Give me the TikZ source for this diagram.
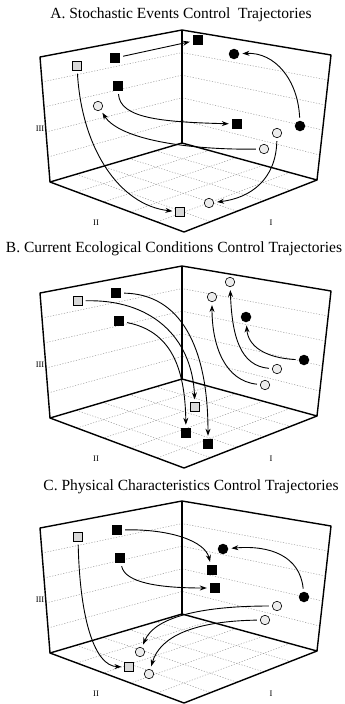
\documentclass[tikz,border=0pt]{standalone}
\usepackage{fontspec}
\setmainfont{Liberation Serif}
\usetikzlibrary{calc,arrows.meta}

% one box corner with its grid, in pixel units
\newcommand{\trajbox}[1]{%
  \coordinate (#1T) at (182,30);
  \coordinate (#1B) at (182,143);
  \coordinate (#1LT) at (40,57);
  \coordinate (#1LB) at (50,182);
  \coordinate (#1RT) at (331,55);
  \coordinate (#1RB) at (317,180);
  \coordinate (#1F) at (184,232);
  \foreach \pos in {0.2,0.4,0.6,0.8}{
    \draw[gridline] ($(#1LT)!\pos!(#1LB)$) -- ($(#1T)!\pos!(#1B)$);
    \draw[gridline] ($(#1RT)!\pos!(#1RB)$) -- ($(#1T)!\pos!(#1B)$);
    \draw[gridline] ($(#1B)!\pos!(#1RB)$) -- ($(#1LB)!\pos!(#1F)$);
    \draw[gridline] ($(#1B)!\pos!(#1LB)$) -- ($(#1RB)!\pos!(#1F)$);
  }
  \draw[frame] (#1LB) -- (#1LT) -- (#1T) -- (#1RT) -- (#1RB);
  \draw[frame] (#1T) -- (#1B);
  \draw[frame] (#1LB) -- (#1B) -- (#1RB) -- (#1F) -- cycle;
  \node[axlabel] (#1ax3) at (40,129) {III};
  \node[axlabel] (#1ax2) at (96,223) {II};
  \node[axlabel] (#1ax1) at (271,223) {I};
}

\begin{document}
\begin{tikzpicture}[x=1pt, y=-1pt,
    gridline/.style={gray!85, line width=0.45pt, dash pattern=on 1.2pt off 1.6pt},
    frame/.style={line width=1.4pt, line join=round},
    axlabel/.style={font=\fontsize{8.5}{9}\selectfont, inner sep=0pt},
    ttl/.style={font=\fontsize{15.5}{17}\selectfont, inner sep=0pt},
    bsq/.style={rectangle, fill=black, minimum size=10pt, inner sep=0pt},
    bdot/.style={circle, fill=black, minimum size=10.5pt, inner sep=0pt},
    gsq/.style={rectangle, draw, line width=0.6pt, fill=gray!30, minimum size=8.5pt, inner sep=0pt},
    gdot/.style={circle, draw, line width=0.6pt, fill=gray!15, minimum size=9.5pt, inner sep=0pt},
    traj/.style={->, >={Stealth[length=7pt,width=5pt]}, line width=0.9pt, shorten <=3pt, shorten >=3pt}
  ]
  \useasboundingbox (0,0) rectangle (345,704);

  % A
  \begin{scope}
    \trajbox{a}
    \node[ttl] (a-title) at (181,15) {A. Stochastic Events Control\ \ Trajectories};
    \node[gsq] (a-g1) at (77,66) {};
    \node[bsq] (a-b1) at (115,58) {};
    \node[bsq] (a-b2) at (198,40) {};
    \node[bdot] (a-d1) at (234,54) {};
    \node[bsq] (a-b3) at (118,86) {};
    \node[gdot] (a-o1) at (98,106) {};
    \node[bsq] (a-b4) at (237,124) {};
    \node[bdot] (a-d2) at (300,126) {};
    \node[gdot] (a-o2) at (277,133) {};
    \node[gdot] (a-o3) at (264,149) {};
    \node[gdot] (a-o4) at (209,203) {};
    \node[gsq] (a-g2) at (180,212) {};
    \draw[traj] (a-b1) -- (a-b2);
    \draw[traj] (a-d2) .. controls (298,80) and (275,52) .. (a-d1);
    \draw[traj] (a-b3) .. controls (120,118) and (160,122) .. (a-b4);
    \draw[traj] (a-o3) .. controls (190,150) and (120,140) .. (a-o1);
    \draw[traj] (a-o2) .. controls (276,180) and (250,198) .. (a-o4);
    \draw[traj] (a-g1) .. controls (82,150) and (120,205) .. (a-g2);
  \end{scope}

  % B
  \begin{scope}[shift={(0,236)}]
    \trajbox{b}
    \node[ttl] (b-title) at (174,13) {B. Current Ecological Conditions Control Trajectories};
    \node[gsq] (b-g1) at (78,65) {};
    \node[bsq] (b-b1) at (116,57) {};
    \node[bsq] (b-b2) at (119,85) {};
    \node[gdot] (b-o1) at (230,46) {};
    \node[gdot] (b-o2) at (212,61) {};
    \node[bdot] (b-d1) at (246,81) {};
    \node[bdot] (b-d2) at (304,124) {};
    \node[gdot] (b-o3) at (277,133) {};
    \node[gdot] (b-o4) at (265,149) {};
    \node[gsq] (b-g2) at (195,171) {};
    \node[bsq] (b-b3) at (186,197) {};
    \node[bsq] (b-b4) at (208,208) {};
    \draw[traj] (b-b1) .. controls (180,58) and (208,110) .. (b-b4);
    \draw[traj] (b-g1) .. controls (150,63) and (192,100) .. (b-g2);
    \draw[traj] (b-b2) .. controls (170,95) and (185,130) .. (b-b3);
    \draw[traj] (b-o4) .. controls (225,145) and (212,110) .. (b-o2);
    \draw[traj] (b-o3) .. controls (240,130) and (232,100) .. (b-o1);
    \draw[traj] (b-d2) .. controls (265,122) and (248,110) .. (b-d1);
  \end{scope}

  % C
  \begin{scope}[shift={(0,471)}]
    \trajbox{c}
    \node[ttl] (c-title) at (191,16) {C. Physical Characteristics Control Trajectories};
    \node[gsq] (c-g1) at (78,66) {};
    \node[bsq] (c-b1) at (117,59) {};
    \node[bsq] (c-b2) at (120,87) {};
    \node[bdot] (c-d1) at (223,78) {};
    \node[bsq] (c-b3) at (212,99) {};
    \node[bsq] (c-b4) at (215,117) {};
    \node[bdot] (c-d2) at (304,126) {};
    \node[gdot] (c-o3) at (277,135) {};
    \node[gdot] (c-o4) at (265,149) {};
    \node[gdot] (c-o1) at (140,181) {};
    \node[gdot] (c-o2) at (149,203) {};
    \node[gsq] (c-g2) at (129,196) {};
    \draw[traj] (c-b1) .. controls (170,58) and (205,70) .. (c-b3);
    \draw[traj] (c-b2) .. controls (125,112) and (160,117) .. (c-b4);
    \draw[traj] (c-d2) .. controls (300,85) and (270,74) .. (c-d1);
    \draw[traj] (c-o3) .. controls (205,135) and (155,145) .. (c-o1);
    \draw[traj] (c-o4) .. controls (195,150) and (160,165) .. (c-o2);
    \draw[traj] (c-g1) .. controls (80,150) and (95,195) .. (c-g2);
  \end{scope}
\end{tikzpicture}
\end{document}
